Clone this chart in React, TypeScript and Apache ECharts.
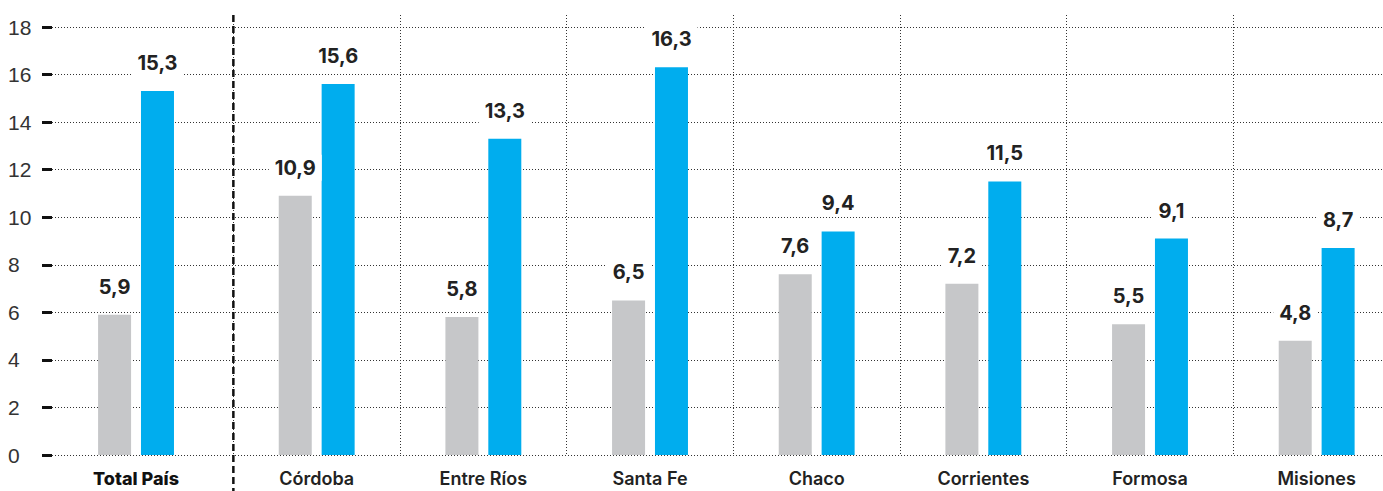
import React, { useEffect, useRef } from "react";
import * as echarts from "echarts";

const categories = ["Total País", "Córdoba", "Entre Ríos", "Santa Fe", "Chaco", "Corrientes", "Formosa", "Misiones"];
const greyValues = [5.9, 10.9, 5.8, 6.5, 7.6, 7.2, 5.5, 4.8];
const blueValues = [15.3, 15.6, 13.3, 16.3, 9.4, 11.5, 9.1, 8.7];
const yTicks = [0, 2, 4, 6, 8, 10, 12, 14, 16, 18];

const FONT = "Inter, 'Liberation Sans', sans-serif";
const TEXT = "#222222";
const GREY = "#c6c7c9";
const BLUE = "#00adee";

export default function App() {
  const ref = useRef<HTMLDivElement>(null);
  useEffect(() => {
    document.body.style.margin = "0";
    if (!ref.current) return;
    const chart = echarts.init(ref.current, null, { renderer: "svg" });
    const valueLabel = {
      show: true,
      position: "top",
      distance: 15,
      color: TEXT,
      fontFamily: FONT,
      fontSize: 20,
      fontWeight: 700,
      backgroundColor: "#ffffff",
      padding: [3, 6, 3, 6],
      formatter: (p: any) => String(p.value).replace(".", ","),
    };
    const splitColors = categories.map((_, i) => (i === 0 ? "rgba(0,0,0,0)" : "#333333"));
    splitColors.push("#333333");
    // the national total is set slightly apart from the provinces
    const onlyTotal = (arr: number[]) => arr.map((v, i) => (i === 0 ? v : "-"));
    const onlyProv = (arr: number[]) => arr.map((v, i) => (i === 0 ? "-" : v));
    const baseLabel = {
      margin: 14,
      color: TEXT,
      fontFamily: FONT,
      fontSize: 18,
      fontWeight: 600,
      interval: 0,
    };
    const barBase = { type: "bar", barWidth: 33, barGap: "30%" };
    chart.setOption({
      animation: false,
      backgroundColor: "#ffffff",
      grid: [
        { left: 52, right: 0, top: 27, bottom: 36, outerBoundsMode: "none", containLabel: false },
        { left: 66.7, width: 1333.3, top: 15, bottom: 36, outerBoundsMode: "none", containLabel: false },
        { left: 52.7, width: 1333.3, top: 15, bottom: 36, outerBoundsMode: "none", containLabel: false },
      ],
      xAxis: [
        { gridIndex: 0, type: "value", show: false, min: 0, max: 1 },
        {
          gridIndex: 1,
          type: "category",
          data: categories,
          axisLine: { show: false },
          axisTick: { show: false },
          splitLine: { show: true, lineStyle: { color: splitColors, width: 1, type: [1, 2] } },
          axisLabel: { ...baseLabel, formatter: (v: string) => (v === categories[0] ? "" : v) },
        },
        {
          gridIndex: 2,
          type: "category",
          data: categories,
          axisLine: { show: false },
          axisTick: { show: false },
          splitLine: { show: false },
          axisLabel: {
            ...baseLabel,
            fontWeight: 800,
            color: "#111111",
            formatter: (v: string) => (v === categories[0] ? v : ""),
          },
        },
      ],
      yAxis: [
        {
          gridIndex: 0,
          type: "value",
          min: yTicks[0],
          max: yTicks[yTicks.length - 1],
          interval: 2,
          axisLine: { show: false },
          axisTick: { show: true, length: 10, lineStyle: { color: "#111111", width: 3 } },
          axisLabel: {
            margin: 44,
            align: "left",
            color: "#333333",
            fontFamily: "'Liberation Sans', Arial, sans-serif",
            fontSize: 21,
          },
          splitLine: { show: true, lineStyle: { color: "#333333", width: 1, type: [1, 2] } },
        },
        { gridIndex: 1, type: "value", min: 0, max: 18.5, show: false, splitLine: { show: false } },
        { gridIndex: 2, type: "value", min: 0, max: 18.5, show: false, splitLine: { show: false } },
      ],
      series: [
        { ...barBase, xAxisIndex: 1, yAxisIndex: 1, data: onlyProv(greyValues), itemStyle: { color: GREY }, label: valueLabel },
        { ...barBase, xAxisIndex: 1, yAxisIndex: 1, data: onlyProv(blueValues), itemStyle: { color: BLUE }, label: valueLabel },
        { ...barBase, xAxisIndex: 2, yAxisIndex: 2, data: onlyTotal(greyValues), itemStyle: { color: GREY }, label: valueLabel },
        { ...barBase, xAxisIndex: 2, yAxisIndex: 2, data: onlyTotal(blueValues), itemStyle: { color: BLUE }, label: valueLabel },
      ],
    });
    const c0 = chart.convertToPixel({ xAxisIndex: 1 }, categories[0]) as number;
    const c1 = chart.convertToPixel({ xAxisIndex: 1 }, categories[1]) as number;
    const bx = (c0 + c1) / 2;
    chart.setOption({
      graphic: [
        {
          type: "line",
          z: 100,
          shape: { x1: bx, y1: 15, x2: bx, y2: 491 },
          style: { stroke: "#111111", lineWidth: 2.5, lineDash: [7, 4] },
        },
      ],
    });
    return () => chart.dispose();
  }, []);
  return <div ref={ref} style={{ width: 1383, height: 491 }} />;
}
